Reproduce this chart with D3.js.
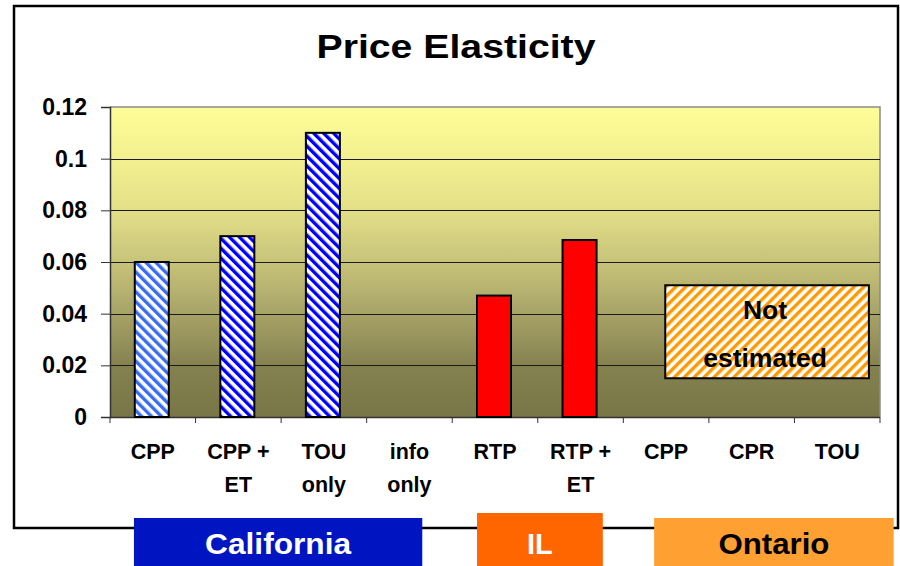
<!DOCTYPE html>
<html><head><meta charset="utf-8">
<script src="https://cdn.jsdelivr.net/npm/d3@7"></script>
<style>
html,body{margin:0;padding:0;background:#fff;}
svg{display:block;font-family:"Liberation Sans",Arial,sans-serif;font-weight:bold;}
</style></head>
<body><svg id="chart" width="900" height="566"></svg>
<script>
// ---- data ----
const categoryLines = [["CPP"],["CPP +","ET"],["TOU","only"],["info","only"],["RTP"],["RTP +","ET"],["CPP"],["CPR"],["TOU"]];
const values = [0.06, 0.07, 0.11, null, 0.047, 0.0685, null, null, null];
const barStyle = ["lightblue","blue","blue",null,"red","red",null,null,null];
const yTicks = [0, 0.02, 0.04, 0.06, 0.08, 0.1, 0.12];
const regionNames = ["California","IL","Ontario"];
const regionFirst = [0, 4, 6];
const regionLast = [3, 5, 8];
const notEstimatedText = ["Not","estimated"];
const notEstimatedRange = [0.015, 0.051];
const notEstimatedCats = [6, 8];
const title = "Price Elasticity";

const svg = d3.select("#chart");
const W = 900, H = 566;
const plot = {left:110, right:880, top:107, bottom:417};

const x = d3.scaleBand().domain(d3.range(categoryLines.length)).range([plot.left, plot.right]).paddingInner(0).paddingOuter(0);
const y = d3.scaleLinear().domain([0, 0.12]).range([plot.bottom, plot.top]);
const bw = x.bandwidth();

// defs
const defs = svg.append("defs");
const grad = defs.append("linearGradient").attr("id","bg").attr("x1",0).attr("y1",0).attr("x2",0).attr("y2",1);
[[0,"#FEFE98"],[0.167,"#F2F08F"],[0.333,"#E3DF87"],[0.5,"#C7C37A"],[0.667,"#A7A367"],[0.833,"#858250"],[1,"#787646"]]
  .forEach(([o,c])=>grad.append("stop").attr("offset",o).attr("stop-color",c));

function stripes(id, color, angle){
  const p = defs.append("pattern").attr("id",id).attr("patternUnits","userSpaceOnUse")
    .attr("width",7).attr("height",7).attr("patternTransform",`rotate(${angle})`);
  p.append("rect").attr("width",7).attr("height",7).attr("fill","#fff");
  p.append("rect").attr("width",3.4).attr("height",7).attr("fill",color);
}
stripes("hatchLight","#3a6cf2",-45);
stripes("hatchBlue","#0000ff",-45);
stripes("hatchOrange","#ff9900",45);

// outer frame
svg.append("rect").attr("x",14).attr("y",6).attr("width",884).attr("height",522)
  .attr("fill","#fff").attr("stroke","#000").attr("stroke-width",2.5);

// title
svg.append("text").attr("x",456).attr("y",58).attr("text-anchor","middle")
  .attr("font-size",33).attr("textLength",279).attr("lengthAdjust","spacingAndGlyphs").text(title);

// plot background
svg.append("rect").attr("x",plot.left).attr("y",plot.top).attr("width",plot.right-plot.left).attr("height",plot.bottom-plot.top)
  .attr("fill","url(#bg)");
// top/right border (gray)
svg.append("path").attr("d",`M${plot.left},${plot.top}H${plot.right}V${plot.bottom}`)
  .attr("fill","none").attr("stroke","#8a8a8a").attr("stroke-width",1.5);

// gridlines
svg.append("g").selectAll("line").data(yTicks.filter(d=>d>0 && d<0.12)).join("line")
  .attr("x1",plot.left).attr("x2",plot.right)
  .attr("y1",d=>Math.round(y(d))+0.5).attr("y2",d=>Math.round(y(d))+0.5)
  .attr("stroke","#1a1a1a").attr("stroke-width",1);

// y axis
const yAxis = svg.append("g").attr("transform",`translate(${plot.left},0)`)
  .call(d3.axisLeft(y).tickValues(yTicks).tickSize(9).tickPadding(14).tickFormat(d=>d3.format("")(+d.toFixed(2))));
yAxis.select(".domain").attr("stroke","#333").attr("stroke-width",1.5);
yAxis.selectAll(".tick line").attr("stroke","#333");
yAxis.selectAll(".tick text").attr("font-size",23).attr("font-weight","bold").attr("font-family","Liberation Sans, Arial, sans-serif").attr("fill","#000");

// x axis (ticks at band boundaries)
const bounds = d3.range(categoryLines.length+1).map(i=> i<categoryLines.length ? x(i) : x(i-1)+bw);
svg.append("line").attr("x1",plot.left).attr("x2",plot.right).attr("y1",plot.bottom+0.5).attr("y2",plot.bottom+0.5)
  .attr("stroke","#333").attr("stroke-width",1.5);
svg.append("g").selectAll("line").data(bounds).join("line")
  .attr("x1",d=>d).attr("x2",d=>d).attr("y1",plot.bottom).attr("y2",plot.bottom+6)
  .attr("stroke","#333").attr("stroke-width",1);

// x labels
const xl = svg.append("g").selectAll("text").data(categoryLines).join("text")
  .attr("text-anchor","middle").attr("font-size",21.5);
xl.each(function(lines,i){
  d3.select(this).selectAll("tspan").data(lines).join("tspan")
    .attr("x",x(i)+bw/2).attr("y",(d,j)=>459+j*33).text(d=>d);
});

// bars
const barW = 34;
const fillFor = s => s==="lightblue" ? "url(#hatchLight)" : s==="blue" ? "url(#hatchBlue)" : "#ff0000";
svg.append("g").selectAll("rect").data(values.map((v,i)=>({v,i,s:barStyle[i]})).filter(d=>d.v!=null)).join("rect")
  .attr("x",d=>x(d.i)+bw/2-barW/2-1).attr("width",barW)
  .attr("y",d=>y(d.v)).attr("height",d=>y(0)-y(d.v))
  .attr("fill",d=>fillFor(d.s)).attr("stroke","#000").attr("stroke-width",2);

// not estimated box
const neX0 = x(notEstimatedCats[0]) + bw*0.49;
const neX1 = x(notEstimatedCats[1]) + bw*0.87;
svg.append("rect").attr("x",neX0).attr("y",y(notEstimatedRange[1]))
  .attr("width",neX1-neX0).attr("height",y(notEstimatedRange[0])-y(notEstimatedRange[1]))
  .attr("fill","url(#hatchOrange)").attr("stroke","#000").attr("stroke-width",2);
svg.append("g").selectAll("text").data(notEstimatedText).join("text")
  .attr("x",(neX0+neX1)/2 - 2).attr("y",(d,i)=>[319,367][i]).attr("text-anchor","middle")
  .attr("font-size",26.5).attr("fill","#000").text(d=>d);

// region boxes
const regionColors = ["#0015C2","#FF6600","#FFA033"];
const regionTextColors = ["#fff","#fff","#000"];
const regionX0Off = [0.28, 0.29, 0.36];
const regionX1Off = [0.65, 0.76, 1.16];
const regionTop = [518, 513, 518];
const regionTextLen = [146, null, 111];
regionNames.forEach((name,i)=>{
  const x0 = x(regionFirst[i]) + bw*regionX0Off[i];
  const x1 = x(regionLast[i]) + bw*regionX1Off[i];
  svg.append("rect").attr("x",x0).attr("y",regionTop[i]).attr("width",x1-x0).attr("height",H-regionTop[i]+5)
    .attr("fill",regionColors[i]);
  const t = svg.append("text").attr("x",(x0+x1)/2).attr("y",554).attr("text-anchor","middle")
    .attr("font-size",29).attr("fill",regionTextColors[i]).text(name);
  if(regionTextLen[i]) t.attr("textLength",regionTextLen[i]).attr("lengthAdjust","spacingAndGlyphs");
});
</script></body></html>
